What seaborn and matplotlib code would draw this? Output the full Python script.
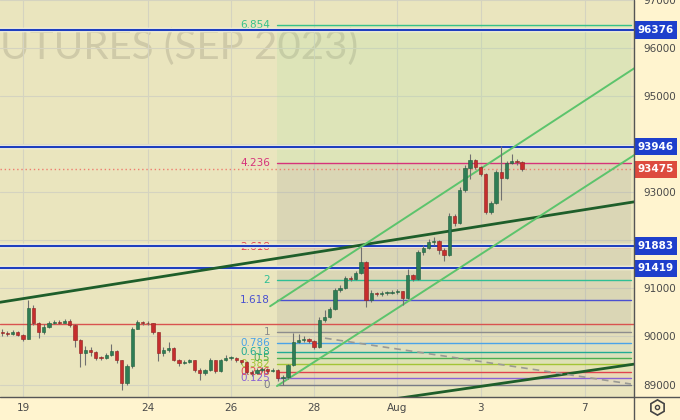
import matplotlib
matplotlib.use("Agg")
import matplotlib.pyplot as plt
import seaborn as sns
import pandas as pd
from matplotlib.lines import Line2D
from matplotlib.transforms import blended_transform_factory

# 3h-ish candles (8 per trading day)
closes = [90080, 90050, 90100, 90040, 89950, 90600, 90280, 90100, 90200, 90270,
          90300, 90290, 90320, 90230, 89920, 89650, 89720, 89680, 89560, 89550,
          89620, 89700, 89500, 89030, 89380, 90150, 90300, 90280, 90270, 90090,
          89650, 89720, 89760, 89520, 89440, 89470, 89500, 89300, 89240, 89300,
          89500, 89280, 89500, 89560, 89560, 89500, 89470, 89260, 89240, 89300,
          89320, 89280, 89300, 89140, 89150, 89400, 89880, 89920, 89950, 89900,
          89780, 90340, 90400, 90580, 90960, 91000, 91210, 91200, 91330, 91540,
          90760, 90900, 90880, 90900, 90900, 90920, 90940, 90800, 91270, 91200,
          91750, 91850, 91960, 91980, 91800, 91700, 92500, 92350, 93040, 93500,
          93680, 93520, 93380, 92580, 92780, 93420, 93300, 93600, 93650, 93620,
          93475]
highs = [90150, 90120, 90140, 90110, 90060, 90750, 90650, 90300, 90260, 90330,
         90350, 90340, 90360, 90360, 90250, 89950, 89800, 89780, 89700, 89600,
         89650, 89850, 89720, 89520, 89420, 90200, 90350, 90330, 90320, 90290,
         90100, 89780, 89880, 89780, 89540, 89500, 89540, 89510, 89350, 89330,
         89560, 89520, 89540, 89620, 89600, 89580, 89520, 89480, 89300, 89340,
         89360, 89340, 89350, 89320, 89200, 89430, 90070, 90050, 90000, 89970,
         89920, 90400, 90550, 90620, 91000, 91060, 91260, 91250, 91360, 91860,
         91560, 90960, 90930, 90950, 90940, 90960, 90980, 90950, 91400, 91300,
         91800, 91900, 92020, 92060, 92000, 91830, 92560, 92550, 93100, 93560,
         93800, 93700, 93540, 93400, 92820, 93460, 93970, 93660, 93800, 93700,
         93640]
lows = [90000, 90000, 90020, 90000, 89900, 89940, 90230, 89960, 90050, 90180,
        90250, 90250, 90270, 90200, 89780, 89360, 89400, 89600, 89520, 89520,
        89530, 89600, 89450, 88880, 89000, 89350, 90150, 90240, 90230, 90050,
        89480, 89600, 89680, 89480, 89380, 89420, 89440, 89250, 89100, 89200,
        89280, 89240, 89270, 89480, 89520, 89460, 89420, 89220, 89180, 89220,
        89260, 89240, 89250, 89080, 88990, 89120, 89380, 89860, 89880, 89860,
        89740, 89760, 90300, 90380, 90560, 90920, 90980, 91150, 91180, 91300,
        90620, 90720, 90840, 90850, 90860, 90880, 90880, 90660, 90780, 91150,
        91180, 91700, 91820, 91900, 91720, 91560, 91680, 92300, 92330, 93000,
        93280, 93480, 93340, 92540, 92540, 92760, 92840, 93280, 93580, 93560,
        93440]
first_open = 90100

# horizontal levels
blue_levels = [96376, 93946, 91883, 91419]
red_level = 90255
last_price = 93475

# fib extension
fib_base, fib_range = 89000, 1090
fib_ratios = [0, 0.125, 0.236, 0.382, 0.5, 0.618, 0.786, 1, 1.618, 2, 2.618, 4.236, 6.854]
fib_labels = ["0", "0.125", "0.236", "0.382", "0.5", "0.618", "0.786", "1",
              "1.618", "2", "2.618", "4.236", "6.854"]
fib_colors = ["#787b86", "#8a62d4", "#e0434f", "#a3c436", "#4caf50", "#22ab94",
              "#4aa3e8", "#8d8d8d", "#4a50d0", "#2fbf95", "#e04050", "#d6337a", "#36c28a"]
fib_start, fib_end = 6.106, 14.615

# trend lines (day, price)
dark_lines = [((-0.553, 90711), (14.69, 92800)), ((8.58, 88657), (14.71, 89426))]
channel_lines = [((5.94, 90628), (14.71, 95587)), ((6.106, 88968), (14.71, 93782))]
dashed_line = ((7.26, 89964), (14.615, 89010))

date_pos = [0, 3, 5, 7, 9, 11, 13.5]
date_labels = ["19", "24", "26", "28", "Aug", "3", "7"]

sns.set_style("white")
plt.rcParams["font.family"] = ["DejaVu Sans"]

BG = "#eae5be"
AXBG = "#fff4cf"

fig = plt.figure(figsize=(6.8, 4.2), dpi=100, facecolor=AXBG)
ax = fig.add_axes([0, 23 / 420, 634 / 680, 397 / 420], facecolor=BG)
ax.set_xlim(-0.553, 14.69)
ax.set_ylim(88740, 96978)

# watermark
ax.text(0.0, 0.88, "UTURES (SEP 2023)", transform=ax.transAxes, fontsize=29,
        family="Lato", color="#cfcaa8", ha="left", va="center", zorder=0)

# grid
for p in range(89000, 98000, 1000):
    ax.axhline(p, color="#d5d3c0", lw=0.8, zorder=0.5)
for d in date_pos:
    ax.axvline(d, color="#d5d3c0", lw=0.8, zorder=0.5)

# fib block
fib_prices = [fib_base + r * fib_range for r in fib_ratios]
for i in range(len(fib_prices) - 1):
    lo, hi = fib_prices[i], fib_prices[i + 1]
    if fib_ratios[i] > 4:
        col, a = "#9be09a", 0.16
    elif fib_ratios[i] >= 1:
        col, a = "#8a8a8a", 0.16
    else:
        col, a = fib_colors[i + 1], 0.07
    ax.fill_between([fib_start, fib_end], lo, hi, color=col, alpha=a, lw=0, zorder=0.8)
for p, lab, col in zip(fib_prices, fib_labels, fib_colors):
    ax.plot([fib_start, fib_end], [p, p], color=col, lw=1, zorder=1)
    ax.text(5.94, p, lab, color=col, fontsize=7.5, ha="right", va="center", zorder=1)

# horizontal levels
ax.axhline(red_level, color="#d9534f", lw=1, zorder=1.2)
ax.axhline(last_price, color="#ef7d6e", lw=1, ls=(0, (1, 2)), zorder=1.2)
for p in blue_levels:
    ax.axhline(p, color="#fffbe0", lw=3.2, zorder=1.3)
    ax.axhline(p, color="#1f3fbf", lw=1.6, zorder=1.4)

# trend lines
for (x0, y0), (x1, y1) in dark_lines:
    sns.lineplot(x=[x0, x1], y=[y0, y1], ax=ax, color="#1e5e2a", lw=2, zorder=2)
for (x0, y0), (x1, y1) in channel_lines:
    sns.lineplot(x=[x0, x1], y=[y0, y1], ax=ax, color="#5cc46c", lw=1.4, zorder=2)
(x0, y0), (x1, y1) = dashed_line
sns.lineplot(x=[x0, x1], y=[y0, y1], ax=ax, color="#9a9a94", lw=1.2,
             ls=(0, (4, 3)), zorder=2)

# candles
df = pd.DataFrame({"close": closes, "high": highs, "low": lows})
df["open"] = [first_open] + closes[:-1]
df["x"] = [-0.5 + k * 0.125 for k in range(len(df))]
up = df["close"] >= df["open"]
ax.vlines(df["x"], df["low"], df["high"], color="#707070", lw=0.8, zorder=3)
body_lo = df[["open", "close"]].min(axis=1)
body_h = (df["close"] - df["open"]).abs().clip(lower=15)
ax.bar(df["x"], body_h, bottom=body_lo, width=0.08,
       color=["#2f7d55" if u else "#c62e2e" for u in up],
       edgecolor=["#1f5e3c" if u else "#8e1f1f" for u in up], lw=0.4, zorder=4)

# axes
for s in ax.spines.values():
    s.set_visible(False)
ax.yaxis.tick_right()
yt = list(range(89000, 98000, 1000))
ax.set_yticks(yt)
ax.set_yticklabels(["" if p in (92000, 94000) else str(p) for p in yt])
ax.set_xticks(date_pos)
ax.set_xticklabels(date_labels)
ax.tick_params(axis="y", length=0, pad=7, labelsize=7.5, labelcolor="#4a4a4a")
ax.tick_params(axis="x", length=0, pad=4, labelsize=7.5, labelcolor="#4a4a4a")
ax.grid(False)

fig.add_artist(Line2D([634 / 680, 634 / 680], [0, 1], transform=fig.transFigure,
                      color="#555555", lw=1))
fig.add_artist(Line2D([0, 1], [23 / 420, 23 / 420], transform=fig.transFigure,
                      color="#555555", lw=1))

# price labels
tr = blended_transform_factory(ax.transAxes, ax.transData)
for p in blue_levels:
    ax.text(1.005, p, str(p), transform=tr, fontsize=7.5, fontweight="bold",
            color="white", ha="left", va="center", clip_on=False,
            bbox=dict(boxstyle="square,pad=0.35", fc="#1f3fcc", ec="none"))
ax.text(1.005, last_price, str(last_price), transform=tr, fontsize=7.5,
        fontweight="bold", color="white", ha="left", va="center", clip_on=False,
        bbox=dict(boxstyle="square,pad=0.35", fc="#dd4b3e", ec="none"))

# settings icon
fig.add_artist(Line2D([657 / 680], [13 / 420], marker="h", ms=11, mfc="none",
                      mec="#444444", mew=1.2, transform=fig.transFigure))
fig.add_artist(Line2D([657 / 680], [13 / 420], marker="o", ms=3, mfc="none",
                      mec="#444444", mew=1, transform=fig.transFigure))

fig.savefig("out.png", dpi=100, facecolor=AXBG)
